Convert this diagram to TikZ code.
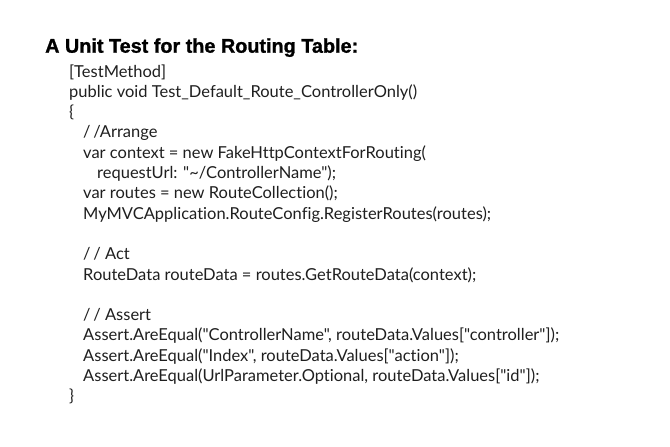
\documentclass[tikz,border=0pt]{standalone}
\usepackage{fontspec}
\newfontfamily\codefont{Lato}[Ligatures={NoCommon}]
\newfontfamily\titlefont[FakeBold=1.2]{Liberation Sans Bold}
\newlength\codewd
\newlength\titlewd
\settowidth\codewd{\codefont\fontsize{10}{12}\selectfont Assert.AreEqual("ControllerName", routeData.Values["controller"]);}
\settowidth\titlewd{\titlefont\fontsize{10}{12}\selectfont A Unit Test for the Routing Table:}
\pgfmathsetmacro\codesize{10*476/\codewd}
\pgfmathsetmacro\titlesize{10*313/\titlewd}
\begin{document}
\begin{tikzpicture}[x=1pt,y=-1pt,
  codeline/.style={anchor=base west,inner sep=0pt,font=\codefont\fontsize{\codesize}{18}\selectfont,text=black!88},
  titleline/.style={anchor=base west,inner sep=0pt,font=\titlefont\fontsize{\titlesize}{20}\selectfont}]
\useasboundingbox[fill=white] (0,0) rectangle (670,447);
\def\bl{77}\def\ls{20.3}
\node[titleline] (title) at (45,52.7) {A Unit Test for the Routing Table:};
\node[codeline] (l0) at (69,\bl) {[TestMethod]};
\node[codeline] (l1) at (69,\bl+\ls) {public void Test\_Default\_Route\_ControllerOnly()};
\node[codeline] (l2) at (69,\bl+2*\ls) {\{};
\node[codeline] (l3) at (83,\bl+3*\ls) {/\,/Arrange};
\node[codeline] (l4) at (83,\bl+4*\ls) {var context = new FakeHttpContextForRouting(};
\node[codeline] (l5) at (97,\bl+5*\ls) {requestUrl: "\textasciitilde/ControllerName");};
\node[codeline] (l6) at (83,\bl+6*\ls) {var routes = new RouteCollection();};
\node[codeline] (l7) at (83,\bl+7*\ls) {MyMVCApplication.RouteConfig.RegisterRoutes(routes);};
\node[codeline] (l9) at (83,\bl+9*\ls) {/\,/ Act};
\node[codeline] (l10) at (83,\bl+10*\ls) {RouteData routeData = routes.GetRouteData(context);};
\node[codeline] (l12) at (83,\bl+12*\ls) {/\,/ Assert};
\node[codeline] (l13) at (83,\bl+13*\ls) {Assert.AreEqual("ControllerName", routeData.Values["controller"]);};
\node[codeline] (l14) at (83,\bl+14*\ls) {Assert.AreEqual("Index", routeData.Values["action"]);};
\node[codeline] (l15) at (83,\bl+15*\ls) {Assert.AreEqual(UrlParameter.Optional, routeData.Values["id"]);};
\node[codeline] (l16) at (69,\bl+16*\ls) {\}};
\end{tikzpicture}
\end{document}
